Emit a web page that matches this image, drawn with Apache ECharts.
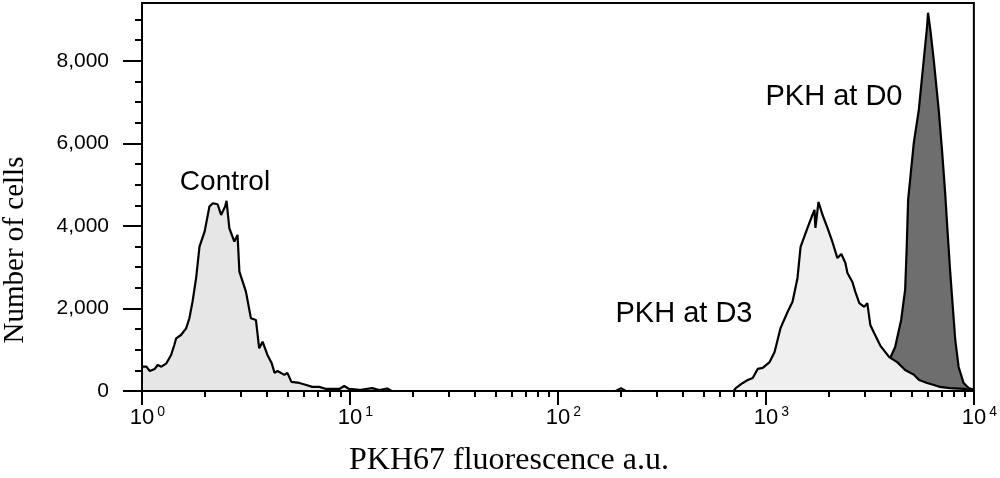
<!DOCTYPE html>
<html>
<head>
<meta charset="utf-8">
<script src="https://cdn.jsdelivr.net/npm/echarts@6/dist/echarts.min.js"></script>
<style>
  html, body { margin: 0; padding: 0; background: #fff; }
  #chart { width: 1000px; height: 478px; }
</style>
</head>
<body>
<div id="chart"></div>
<script>
  // fluorescence (a.u.) and number of cells
  const controlX = [1.00, 1.05, 1.09, 1.15, 1.19, 1.24, 1.31, 1.38, 1.43, 1.46, 1.54, 1.63, 1.69, 1.75, 1.82, 1.89, 1.92, 2.00, 2.11, 2.19, 2.31, 2.40, 2.51, 2.55, 2.63, 2.78, 2.88, 2.94, 3.16, 3.34, 3.53, 3.66, 3.80, 4.01, 4.20, 4.34, 4.48, 4.84, 5.00, 5.23, 5.71, 6.17, 6.59, 7.12, 7.69, 8.89, 9.38, 9.91, 11.1, 12.8, 13.8, 15.1, 15.9, 190, 201, 212];
  const controlY = [590, 590, 485, 533, 630, 590, 671, 873, 1115, 1277, 1357, 1519, 1762, 2165, 2731, 3499, 3539, 3862, 4468, 4549, 4525, 4266, 4468, 4606, 3943, 3620, 3782, 2892, 2407, 1762, 1721, 1035, 1196, 873, 680, 440, 485, 390, 440, 220, 195, 145, 100, 100, 50, 50, 120, 50, 25, 70, 20, 60, 0, 0, 70, 0];

  const d3X = [700, 716, 774, 818, 864, 913, 965, 1042, 1101, 1177, 1271, 1343, 1419, 1468, 1585, 1675, 1713, 1730, 1790, 1871, 1977, 2089, 2207, 2306, 2411, 2466, 2606, 2692, 2813, 2972, 3073, 3177, 3319, 3548, 3917, 4278, 4670, 5159, 5453, 5954, 6431, 6871, 7675, 8957, 10000];
  const d3Y = [0, 70, 195, 265, 315, 535, 560, 700, 945, 1530, 1915, 2160, 2740, 3490, 3950, 4270, 4390, 3950, 4580, 4270, 3950, 3610, 3220, 3320, 3100, 2860, 2640, 2400, 2130, 2040, 2130, 1600, 1400, 1100, 820, 700, 510, 390, 265, 195, 145, 100, 70, 50, 0];

  const d0X = [3430, 3750, 3960, 4183, 4470, 4672, 4750, 4829, 5142, 5435, 5742, 5955, 6021, 6175, 6412, 6775, 7026, 7287, 7426, 7700, 8137, 8447, 8927, 9432, 9781, 10000];
  const d0Y = [100, 400, 800, 1067, 1721, 2448, 3418, 4630, 6012, 6812, 8024, 8824, 9164, 8752, 8024, 6812, 5842, 4751, 4073, 2860, 1236, 582, 194, 73, 48, 24];

  const xTicks = [1, 10, 100, 1000, 10000];
  const xTickExp = ['0', '1', '2', '3', '4'];
  const xMinorTicks = [2, 3, 4, 5, 6, 7, 8, 9, 20, 30, 40, 50, 60, 70, 80, 90, 200, 300, 400, 500, 600, 700, 800, 900, 2000, 3000, 4000, 5000, 6000, 7000, 8000, 9000];
  const yTicks = [0, 2000, 4000, 6000, 8000];
  const yMinorTicks = [500, 1000, 1500, 2500, 3000, 3500, 4500, 5000, 5500, 6500, 7000, 7500, 8500, 9000];

  const zip = (xs, ys) => xs.map((x, i) => [x, ys[i]]);

  const sans = 'Liberation Sans';

  // each histogram gets its own z so its fill hides the outlines of the ones below
  const hist = (name, xs, ys, fill, z) => ({
    name: name,
    type: 'line',
    z: z,
    data: zip(xs, ys),
    showSymbol: false,
    symbol: 'none',
    silent: true,
    lineStyle: { color: '#000', width: 2.2 },
    areaStyle: { color: fill, opacity: 1 },
    animation: false
  });

  let chart = echarts.init(document.getElementById('chart'));
  chart.setOption({
    animation: false,
    backgroundColor: '#fff',
    grid: {
      left: 142, right: 23, top: 3, bottom: 87,
      show: true, borderColor: '#000', borderWidth: 2, backgroundColor: 'transparent'
    },
    xAxis: [{
      type: 'log', logBase: 10, min: 1, max: 10000, position: 'bottom', z: 10,
      axisLine: { lineStyle: { color: '#000', width: 2 } },
      axisTick: { customValues: xTicks, length: 14, lineStyle: { color: '#000', width: 2 } },
      axisLabel: {
        customValues: xTicks,
        margin: 14,
        padding: [0, 0, 0, 11],
        formatter: v => '{b|10}{s|' + xTickExp[xTicks.indexOf(Math.round(v))] + '}',
        rich: {
          b: { fontFamily: sans, fontSize: 22, color: '#000', lineHeight: 26 },
          s: { fontFamily: sans, fontSize: 14, color: '#000', verticalAlign: 'top', lineHeight: 14, padding: [0, 0, 0, 3] }
        }
      },
      splitLine: { show: false }
    }, {
      type: 'log', logBase: 10, min: 1, max: 10000, position: 'bottom', z: 10,
      axisLine: { show: false },
      axisTick: { customValues: xMinorTicks, length: 6, lineStyle: { color: '#000', width: 2 } },
      axisLabel: { show: false },
      splitLine: { show: false }
    }],
    yAxis: [{
      type: 'value', min: 0, max: 9400, position: 'left', z: 10,
      axisLine: { show: true, lineStyle: { color: '#000', width: 2 } },
      axisTick: { customValues: yTicks, length: 19, lineStyle: { color: '#000', width: 2 } },
      axisLabel: {
        customValues: yTicks,
        margin: 33,
        fontFamily: sans, fontSize: 21, color: '#000',
        formatter: v => v.toLocaleString('en-US')
      },
      splitLine: { show: false }
    }, {
      type: 'value', min: 0, max: 9400, position: 'left', z: 10,
      axisLine: { show: false },
      axisTick: { customValues: yMinorTicks, length: 7, lineStyle: { color: '#000', width: 2 } },
      axisLabel: { show: false },
      splitLine: { show: false }
    }],
    graphic: [
      { type: 'text', x: 225, y: 182, style: { text: 'Control', font: '28px "Liberation Sans"', fill: '#000', align: 'center', verticalAlign: 'middle' } },
      { type: 'text', x: 684, y: 314, style: { text: 'PKH at D3', font: '29px "Liberation Sans"', fill: '#000', align: 'center', verticalAlign: 'middle' } },
      { type: 'text', x: 834, y: 97, style: { text: 'PKH at D0', font: '29px "Liberation Sans"', fill: '#000', align: 'center', verticalAlign: 'middle' } },
      { type: 'text', x: 509, y: 461, style: { text: 'PKH67 fluorescence a.u.', font: '32px "Liberation Serif"', fill: '#000', align: 'center', verticalAlign: 'middle' } },
      { type: 'text', x: 15, y: 250, rotation: Math.PI / 2, style: { text: 'Number of cells', font: '29px "Liberation Serif"', fill: '#000', align: 'center', verticalAlign: 'middle' } }
    ],
    series: [
      hist('PKH at D0', d0X, d0Y, '#6e6e6e', 2),
      hist('PKH at D3', d3X, d3Y, '#efefef', 3),
      hist('Control', controlX, controlY, '#e6e6e6', 4)
    ]
  });
</script>
</body>
</html>
